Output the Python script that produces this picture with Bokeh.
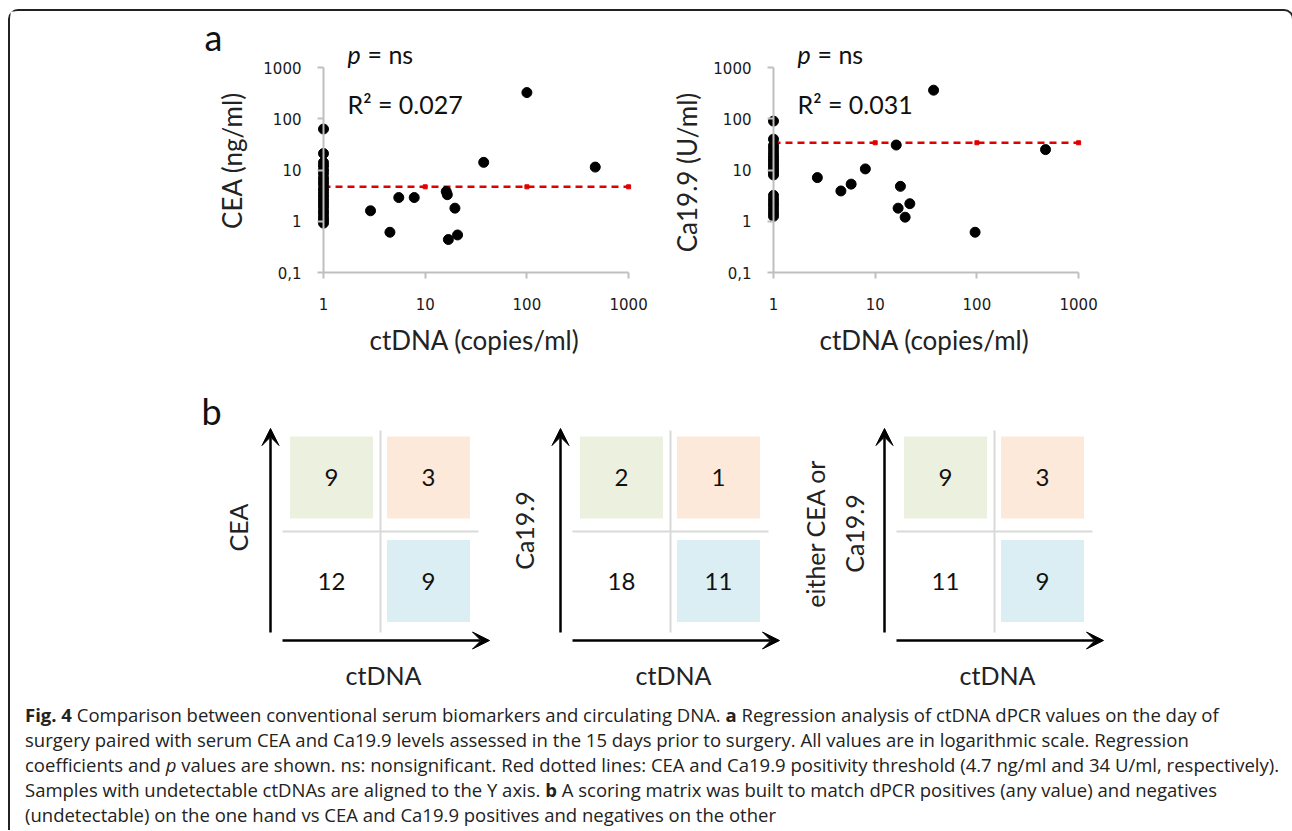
import math
from bokeh.plotting import figure
from bokeh.models import (Range1d, LogAxis, FixedTicker, ColumnDataSource, Arrow, VeeHead, Div)
from bokeh.layouts import column, row
from bokeh.embed import file_html
from bokeh.resources import INLINE
from bokeh.core.properties import value

# ---------------- data (panel a) ----------------
UNDETECTED_X = 1  # undetectable ctDNA samples are aligned to the Y axis
ctdna_cea = [2.9, 4.5, 5.5, 7.8, 16.1, 16.5, 19.6, 16.9, 20.8, 37.6, 100, 470]
cea_vals = [1.6, 0.61, 2.9, 2.9, 3.8, 3.3, 1.8, 0.44, 0.54, 14.1, 324, 11.4]
cea_undetected = [63, 21, 14, 12, 10, 8.5, 7, 6, 5.2, 4.3, 3.8, 3.3, 2.9, 2.5,
                  2.2, 1.9, 1.6, 1.4, 1.2, 1.05, 0.92]
ctdna_ca = [2.7, 4.6, 5.8, 8.0, 16.1, 17.7, 16.8, 21.9, 19.7, 37.5, 96, 473]
ca_vals = [7.1, 3.9, 5.3, 10.5, 30.7, 4.8, 1.8, 2.2, 1.2, 361, 0.61, 25]
ca_undetected = [90, 40, 30, 26, 22, 19, 17, 15, 13, 11.5, 10, 9, 8, 3.2, 2.7,
                 2.3, 2.0, 1.7, 1.45, 1.25]
cea_threshold = 4.7
ca_threshold = 34
threshold_x = [1, 10, 100, 1000]
x_ticks = [1, 10, 100, 1000]
x_tick_labels = ["1", "10", "100", "1000"]
y_ticks = [0.1, 1, 10, 100, 1000]
y_tick_labels = ["0,1", "1", "10", "100", "1000"]
r2_values = ["0.027", "0.031"]
p_values = ["ns", "ns"]

# ---------------- data (panel b) ----------------
matrix_labels = ["CEA", "Ca19.9", "either CEA or\nCa19.9"]
pos_neg = [9, 2, 9]    # marker positive, ctDNA negative
pos_pos = [3, 1, 3]    # marker positive, ctDNA positive
neg_neg = [12, 18, 11] # marker negative, ctDNA negative
neg_pos = [9, 11, 9]   # marker negative, ctDNA positive

caption_html = (
    "<b>Fig. 4</b> Comparison between conventional serum biomarkers and circulating DNA. "
    "<b>a</b> Regression analysis of ctDNA dPCR values on the day of<br>"
    "surgery paired with serum CEA and Ca19.9 levels assessed in the 15 days prior to surgery. "
    "All values are in logarithmic scale. Regression<br>"
    "coefficients and <i>p</i> values are shown. ns: nonsignificant. Red dotted lines: CEA and "
    "Ca19.9 positivity threshold (4.7 ng/ml and 34 U/ml, respectively).<br>"
    "Samples with undetectable ctDNAs are aligned to the Y axis. <b>b</b> A scoring matrix was "
    "built to match dPCR positives (any value) and negatives<br>"
    "(undetectable) on the one hand vs CEA and Ca19.9 positives and negatives on the other"
)

# ---------------- layout constants (page pixels) ----------------
LEFT = 10          # content left edge
TOP = 11           # content top edge
CONTENT_W = 1272
A_BOTTOM = 375
B_BOTTOM = 697
CAP_H = 831 - B_BOTTOM
DX = 101.7         # px per decade, x
DY = 51.25         # px per decade, y
Y_ONE = 220.75     # page y of value 1

LABEL_FONT = "Lato"
TICK_FONT = "DejaVu Sans"
RED = "#E00000"
AXIS_GRAY = "#BFBFBF"


def scatter_panel(canvas_left, width, x_one, xs, ys, undet, thr, ylabel, r2,
                  ylab_px, xlab_px, text_left_px, letter=None):
    def dx(px):
        return 10 ** ((px - x_one) / DX)

    def dy(py):
        return 10 ** ((Y_ONE - py) / DY)

    p = figure(width=width, height=A_BOTTOM - TOP,
               x_axis_type="log", y_axis_type="log",
               x_range=Range1d(dx(canvas_left), dx(canvas_left + width)),
               y_range=Range1d(dy(A_BOTTOM), dy(TOP)),
               x_axis_location=None, y_axis_location=None,
               toolbar_location=None, output_backend="svg",
               min_border=0, outline_line_color=None)
    p.grid.grid_line_color = None
    p.background_fill_color = "white"
    p.border_fill_color = "white"

    xaxis = LogAxis(fixed_location=y_ticks[0], bounds=(x_ticks[0], x_ticks[-1]),
                    ticker=FixedTicker(ticks=x_ticks, minor_ticks=[]),
                    major_label_overrides=dict(zip(x_ticks, x_tick_labels)))
    yaxis = LogAxis(fixed_location=x_ticks[0], bounds=(y_ticks[0], y_ticks[-1]),
                    ticker=FixedTicker(ticks=y_ticks, minor_ticks=[]),
                    major_label_overrides=dict(zip(y_ticks, y_tick_labels)))
    for ax in (xaxis, yaxis):
        ax.axis_line_color = AXIS_GRAY
        ax.axis_line_width = 2
        ax.major_tick_line_color = AXIS_GRAY
        ax.major_tick_line_width = 2
        ax.major_tick_in = 0
        ax.major_tick_out = 6
        ax.minor_tick_line_color = None
        ax.major_label_text_font = TICK_FONT
        ax.major_label_text_font_size = "15px"
        ax.major_label_text_color = "#1a1a1a"
    xaxis.major_label_standoff = 19
    yaxis.major_label_standoff = 16
    p.add_layout(xaxis, "below")
    p.add_layout(yaxis, "left")

    # threshold line
    p.line(threshold_x, [thr] * len(threshold_x), line_color=RED, line_width=2.4,
           line_dash="7 5")
    p.scatter(threshold_x, [thr] * len(threshold_x), marker="square", size=4,
              color=RED)

    # points
    p.scatter([UNDETECTED_X] * len(undet), undet, size=10, color="black")
    p.scatter(xs, ys, size=10, color="black")

    # annotations
    tl = text_left_px
    p.text([dx(tl)], [dy(TOP + 42)], text=["p"], text_font=value(LABEL_FONT),
           text_font_style="italic", text_font_size="25px", text_baseline="middle",
           text_color="#111111")
    p.text([dx(tl)], [dy(TOP + 42)], text=["= " + p_values[0]], x_offset=20,
           text_font=value(LABEL_FONT), text_font_size="25px",
           text_baseline="middle", text_color="#111111")
    p.text([dx(tl)], [dy(TOP + 92)], text=["R\u00b2 = " + r2],
           text_font=value(LABEL_FONT), text_font_size="25px",
           text_baseline="middle", text_color="#111111")
    p.text([dx(ylab_px[0])], [dy(ylab_px[1])], text=[ylabel], angle=math.pi / 2,
           text_font=value(LABEL_FONT), text_font_size="26px", text_align="center",
           text_baseline="middle", text_color="#222222")
    p.text([dx(xlab_px[0])], [dy(xlab_px[1])], text=["ctDNA (copies/ml)"],
           text_font=value(LABEL_FONT), text_font_size="26px", text_align="center",
           text_baseline="middle", text_color="#222222")
    if letter:
        p.text([dx(letter[1])], [dy(letter[2])], text=[letter[0]],
               text_font=value(LABEL_FONT), text_font_size="36px",
               text_align="center", text_baseline="middle", text_color="#111111")
    return p


fig1 = scatter_panel(LEFT, 655 - LEFT, 323, ctdna_cea, cea_vals, cea_undetected,
                     cea_threshold, "CEA (ng/ml)", r2_values[0],
                     (231, 160), (474, 339), 347, letter=("a", 213, 36))
fig2 = scatter_panel(655, LEFT + CONTENT_W - 655, 773, ctdna_ca, ca_vals,
                     ca_undetected, ca_threshold, "Ca19.9 (U/ml)", r2_values[1],
                     (686, 172), (924, 339), 797)

# ---------------- panel b ----------------
pb = figure(width=CONTENT_W, height=B_BOTTOM - A_BOTTOM,
            x_range=Range1d(LEFT, LEFT + CONTENT_W),
            y_range=Range1d(B_BOTTOM, A_BOTTOM),
            x_axis_location=None, y_axis_location=None,
            toolbar_location=None, output_backend="svg",
            min_border=0, outline_line_color=None)
pb.grid.grid_line_color = None

axis_x = [270, 560, 884]      # vertical arrow of each matrix
col_off = [61, 158]           # cell centre offsets from the arrow
row_y = [477, 580.5]          # cell centres (top row, bottom row)
CELL_W, CELL_H = 83, 82

cells = dict(x=[], y=[], fill=[], txt=[])
fills = ["#EBF1DE", "#FDE9D9", None, "#DBEEF3"]
for i, ax in enumerate(axis_x):
    vals = [pos_neg[i], pos_pos[i], neg_neg[i], neg_pos[i]]
    for k in range(4):
        cells["x"].append(ax + col_off[k % 2])
        cells["y"].append(row_y[k // 2])
        cells["fill"].append(fills[k] if fills[k] else "white")
        cells["txt"].append(str(vals[k]))
csrc = ColumnDataSource(cells)
pb.rect("x", "y", width=CELL_W, height=CELL_H, fill_color="fill", line_color=None,
        source=csrc)

# grey cross lines
vx = [ax + 110 for ax in axis_x]
pb.segment(x0=vx, y0=[430] * 3, x1=vx, y1=[632] * 3, line_color="#D9D9D9",
           line_width=2)
pb.segment(x0=[ax + 12 for ax in axis_x], y0=[531] * 3,
           x1=[ax + 208 for ax in axis_x], y1=[531] * 3,
           line_color="#D9D9D9", line_width=2)

pb.text("x", "y", text="txt", source=csrc, text_font=value(LABEL_FONT),
        text_font_size="24px", text_align="center", text_baseline="middle",
        text_color="#111111")

# arrows
asrc = ColumnDataSource(dict(
    xs=list(axis_x) + [ax + 12 for ax in axis_x],
    ys=[632] * 3 + [640] * 3,
    xe=list(axis_x) + [ax + 219 for ax in axis_x],
    ye=[428] * 3 + [640] * 3,
))
pb.add_layout(Arrow(x_start="xs", y_start="ys", x_end="xe", y_end="ye", source=asrc,
                    line_width=2.5, line_color="black",
                    end=VeeHead(size=17, fill_color="black", line_color="black",
                                line_width=1)))

# axis labels
ylab_x = [237, 523, 834]
ylab_y = [527, 530, 533]
pb.text(ylab_x, ylab_y, text=matrix_labels, angle=math.pi / 2,
        text_font=value(LABEL_FONT), text_font_size="25px", text_align="center",
        text_baseline="middle", text_line_height=1.3, text_color="#222222")
pb.text([ax + 113 for ax in axis_x], [674] * 3, text=["ctDNA"] * 3,
        text_font=value(LABEL_FONT), text_font_size="25px", text_align="center",
        text_baseline="middle", text_color="#222222")
pb.text([211], [410], text=["b"], text_font=value(LABEL_FONT), text_font_size="36px",
        text_align="center", text_baseline="middle", text_color="#111111")

cap = Div(text='<div style="font-family:\'Open Sans\';font-size:18.5px;line-height:25px;'
               'white-space:nowrap;color:#222;padding-left:10px;">' + caption_html + '</div>',
          width=CONTENT_W, height=CAP_H - TOP)

root = column(row(fig1, fig2), pb, cap, margin=(9, 0, 0, 8),
              styles={"border-top": "2px solid #222", "border-left": "2px solid #222",
                      "border-right": "2px solid #222",
                      "border-radius": "10px 10px 0 0"})

open("out.html", "w").write(file_html(root, INLINE))
